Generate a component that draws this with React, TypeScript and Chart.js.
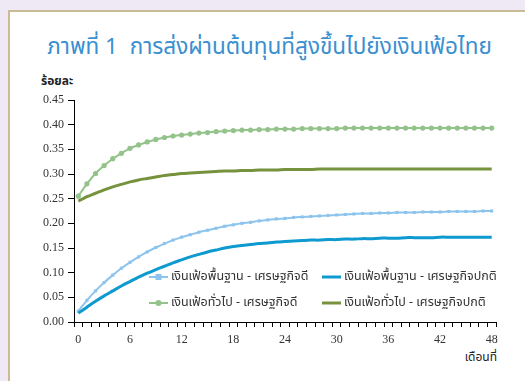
import React, { useEffect, useRef } from 'react';
import { Chart, registerables } from 'chart.js';

Chart.register(...registerables);

const months = ['0','1','2','3','4','5','6','7','8','9','10','11','12','13','14','15','16','17','18','19','20','21','22','23','24','25','26','27','28','29','30','31','32','33','34','35','36','37','38','39','40','41','42','43','44','45','46','47','48'];

const coreGood = [0.022,0.044,0.063,0.080,0.095,0.109,0.121,0.132,0.142,0.151,0.159,0.166,0.172,0.177,0.182,0.186,0.190,0.194,0.197,0.200,0.202,0.205,0.207,0.209,0.210,0.212,0.213,0.214,0.215,0.216,0.217,0.218,0.219,0.220,0.220,0.221,0.221,0.222,0.222,0.222,0.223,0.223,0.223,0.224,0.224,0.224,0.224,0.225,0.225];
const coreNormal = [0.018,0.030,0.042,0.053,0.063,0.073,0.082,0.091,0.099,0.106,0.113,0.120,0.126,0.132,0.137,0.142,0.146,0.150,0.153,0.155,0.157,0.159,0.160,0.162,0.163,0.164,0.165,0.166,0.166,0.167,0.167,0.168,0.168,0.169,0.169,0.170,0.170,0.170,0.171,0.171,0.171,0.171,0.172,0.172,0.172,0.172,0.172,0.172,0.172];
const headlineGood = [0.255,0.280,0.301,0.317,0.331,0.342,0.352,0.359,0.365,0.370,0.374,0.377,0.379,0.381,0.383,0.384,0.386,0.387,0.388,0.389,0.389,0.390,0.390,0.391,0.391,0.391,0.392,0.392,0.392,0.392,0.392,0.393,0.393,0.393,0.393,0.393,0.393,0.393,0.393,0.393,0.393,0.393,0.393,0.393,0.393,0.393,0.393,0.393,0.393];
const headlineNormal = [0.245,0.254,0.261,0.268,0.274,0.279,0.284,0.288,0.291,0.294,0.297,0.299,0.301,0.302,0.303,0.304,0.305,0.306,0.306,0.307,0.307,0.308,0.308,0.308,0.309,0.309,0.309,0.309,0.310,0.310,0.310,0.310,0.310,0.310,0.310,0.310,0.310,0.310,0.310,0.310,0.310,0.310,0.310,0.310,0.310,0.310,0.310,0.310,0.310];

const seriesNames = [
  'เงินเฟ้อพื้นฐาน - เศรษฐกิจดี',
  'เงินเฟ้อพื้นฐาน - เศรษฐกิจปกติ',
  'เงินเฟ้อทั่วไป - เศรษฐกิจดี',
  'เงินเฟ้อทั่วไป - เศรษฐกิจปกติ',
];

const titleText = 'ภาพที่ 1  การส่งผ่านต้นทุนที่สูงขึ้นไปยังเงินเฟ้อไทย';
const yTitle = 'ร้อยละ';
const xTitle = 'เดือนที่';

const COLORS = ['#8CC4EE', '#0E9ACF', '#93C38A', '#76923C'];
const THAI_FONT = '"Noto Sans Thai", "Noto Sans", "DejaVu Sans", sans-serif';
const SERIF = '"Liberation Serif", "Times New Roman", serif';

const legendPlugin = {
  id: 'insideLegend',
  afterDatasetsDraw(chart: any) {
    const ctx = chart.ctx;
    const pos = [
      { x: 149, y: 277 },
      { x: 322, y: 277 },
      { x: 149, y: 303 },
      { x: 322, y: 303 },
    ];
    ctx.save();
    chart.data.datasets.forEach((ds: any, i: number) => {
      const p = pos[i];
      ctx.strokeStyle = ds.borderColor;
      ctx.lineWidth = ds.borderWidth;
      ctx.beginPath();
      ctx.moveTo(p.x, p.y);
      ctx.lineTo(p.x + 19, p.y);
      ctx.stroke();
      if (ds.pointRadius > 0) {
        ctx.fillStyle = ds.borderColor;
        const cx = p.x + 9.5;
        if (ds.pointStyle === 'rect') {
          ctx.fillRect(cx - 3, p.y - 3, 6, 6);
        } else {
          ctx.beginPath();
          ctx.arc(cx, p.y, 3, 0, Math.PI * 2);
          ctx.fill();
        }
      }
      ctx.fillStyle = '#333';
      ctx.font = '12.5px ' + THAI_FONT;
      ctx.textBaseline = 'middle';
      ctx.textAlign = 'left';
      ctx.fillText(ds.label, p.x + 22, p.y);
    });
    ctx.restore();
  },
};

export default function App() {
  const ref = useRef<HTMLCanvasElement>(null);

  useEffect(() => {
    if (!ref.current) return;
    const chart = new Chart(ref.current, {
      type: 'line',
      data: {
        labels: months,
        datasets: [
          {
            label: seriesNames[0], data: coreGood, borderColor: COLORS[0], backgroundColor: COLORS[0],
            borderWidth: 2, pointStyle: 'rect', pointRadius: 2.2, pointBorderWidth: 0, tension: 0.3, order: 2,
          },
          {
            label: seriesNames[1], data: coreNormal, borderColor: COLORS[1], backgroundColor: COLORS[1],
            borderWidth: 3, pointRadius: 0, tension: 0.3, order: 1,
          },
          {
            label: seriesNames[2], data: headlineGood, borderColor: COLORS[2], backgroundColor: COLORS[2],
            borderWidth: 2, pointStyle: 'circle', pointRadius: 2.6, pointBorderWidth: 0, tension: 0.3, order: 4,
          },
          {
            label: seriesNames[3], data: headlineNormal, borderColor: COLORS[3], backgroundColor: COLORS[3],
            borderWidth: 3, pointRadius: 0, tension: 0.3, order: 3,
          },
        ],
      },
      options: {
        responsive: false,
        animation: false,
        layout: { padding: { left: 0, right: 29, top: 100, bottom: 29 } },
        plugins: { legend: { display: false }, tooltip: { enabled: false }, title: { display: false } },
        scales: {
          x: {
            type: 'category',
            offset: true,
            grid: { display: true, offset: true, drawOnChartArea: false, drawTicks: true, tickLength: 5, color: '#000', lineWidth: 1 },
            border: { display: true, color: '#000', width: 1 },
            ticks: {
              autoSkip: false, maxRotation: 0, minRotation: 0, padding: 6, color: '#333',
              font: { family: SERIF, size: 12 },
              callback: (_v: any, idx: number) => (idx % 6 === 0 ? months[idx] : ''),
            },
            afterFit: (s: any) => { s.height = 30; },
          },
          y: {
            min: 0, max: 0.45,
            grid: { display: true, drawOnChartArea: false, drawTicks: true, tickLength: 6, color: '#000', lineWidth: 1 },
            border: { display: true, color: '#000', width: 1 },
            ticks: {
              stepSize: 0.05, padding: 4, color: '#333',
              font: { family: SERIF, size: 12 },
              callback: (v: any) => Number(v).toFixed(2),
            },
            afterFit: (s: any) => { s.width = 74; },
          },
        },
      },
      plugins: [legendPlugin],
    });
    return () => chart.destroy();
  }, []);

  return (
    <div style={{ position: 'fixed', left: 0, top: 0, width: 525, height: 381, background: '#EEE9F4', overflow: 'hidden' }}>
      <div style={{ position: 'absolute', left: 8, top: 10, width: 600, height: 500, background: '#fff', border: '2px solid #C9BC94', boxSizing: 'border-box' }} />
      <div style={{ position: 'absolute', left: 0, top: 33, width: 539, textAlign: 'center', color: '#3A8FD0', fontFamily: THAI_FONT, fontSize: 22.5, lineHeight: '28px', whiteSpace: 'pre' }}>{titleText}</div>
      <div style={{ position: 'absolute', left: 41, top: 73, color: '#222', fontFamily: THAI_FONT, fontSize: 12, fontWeight: 'bold', lineHeight: '16px' }}>{yTitle}</div>
      <div style={{ position: 'absolute', right: 28, top: 349, color: '#222', fontFamily: THAI_FONT, fontSize: 12, lineHeight: '16px' }}>{xTitle}</div>
      <canvas ref={ref} width={525} height={381} style={{ position: 'absolute', left: 0, top: 0 }} />
    </div>
  );
}
